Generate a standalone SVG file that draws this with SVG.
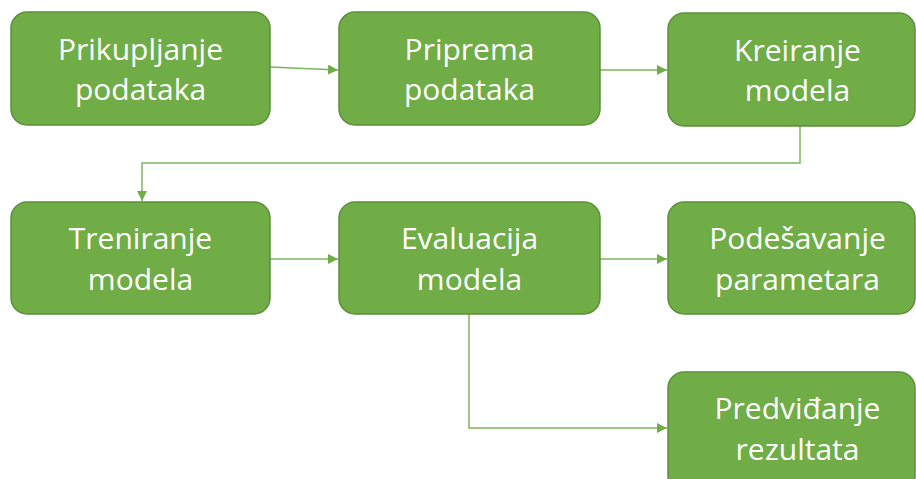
<svg xmlns="http://www.w3.org/2000/svg" width="916" height="479" viewBox="0 0 916 479">
<defs>
<style>
.box{fill:#70AD47;stroke:#5B8F3A;stroke-width:1.5}
.t{font-family:"Open Sans","Noto Sans",sans-serif;font-size:30px;fill:#FFFFFF;text-anchor:middle}
.c{fill:none;stroke:#7DB55A;stroke-width:1.5}
</style>
<marker id="ah" markerWidth="10" markerHeight="10" refX="10" refY="5" orient="auto" markerUnits="userSpaceOnUse">
<path d="M0,0 L10,5 L0,10 Z" fill="#70AD47"/>
</marker>
</defs>
<rect width="916" height="479" fill="#FFFFFF"/>
<g id="connectors">
<path class="c" d="M270,67 L338,70" marker-end="url(#ah)"/>
<path class="c" d="M600,70 L667,70" marker-end="url(#ah)"/>
<path class="c" d="M800,126 L800,163 L142,163 L142,201" marker-end="url(#ah)"/>
<path class="c" d="M270,259 L338,259" marker-end="url(#ah)"/>
<path class="c" d="M600,259 L667,259" marker-end="url(#ah)"/>
<path class="c" d="M469,314 L469,428 L667,428" marker-end="url(#ah)"/>
</g>
<g id="n1">
<rect class="box" x="11" y="12" width="259" height="113" rx="16"/>
<text class="t" x="140.5" y="60">Prikupljanje</text>
<text class="t" x="140.5" y="100">podataka</text>
</g>
<g id="n2">
<rect class="box" x="339" y="12" width="261" height="113" rx="16"/>
<text class="t" x="469.5" y="60">Priprema</text>
<text class="t" x="469.5" y="100">podataka</text>
</g>
<g id="n3">
<rect class="box" x="668" y="13" width="247" height="113" rx="16"/>
<text class="t" x="797.5" y="61">Kreiranje</text>
<text class="t" x="797.5" y="101">modela</text>
</g>
<g id="n4">
<rect class="box" x="11" y="202" width="259" height="112" rx="16"/>
<text class="t" x="140.5" y="249">Treniranje</text>
<text class="t" x="140.5" y="290">modela</text>
</g>
<g id="n5">
<rect class="box" x="339" y="202" width="261" height="112" rx="16"/>
<text class="t" x="469.5" y="249">Evaluacija</text>
<text class="t" x="469.5" y="290">modela</text>
</g>
<g id="n6">
<rect class="box" x="668" y="202" width="247" height="112" rx="16"/>
<text class="t" x="797.5" y="249">Podešavanje</text>
<text class="t" x="797.5" y="290">parametara</text>
</g>
<g id="n7">
<rect class="box" x="668" y="372" width="247" height="120" rx="16"/>
<text class="t" x="797.5" y="419">Predviđanje</text>
<text class="t" x="797.5" y="460">rezultata</text>
</g>
</svg>
